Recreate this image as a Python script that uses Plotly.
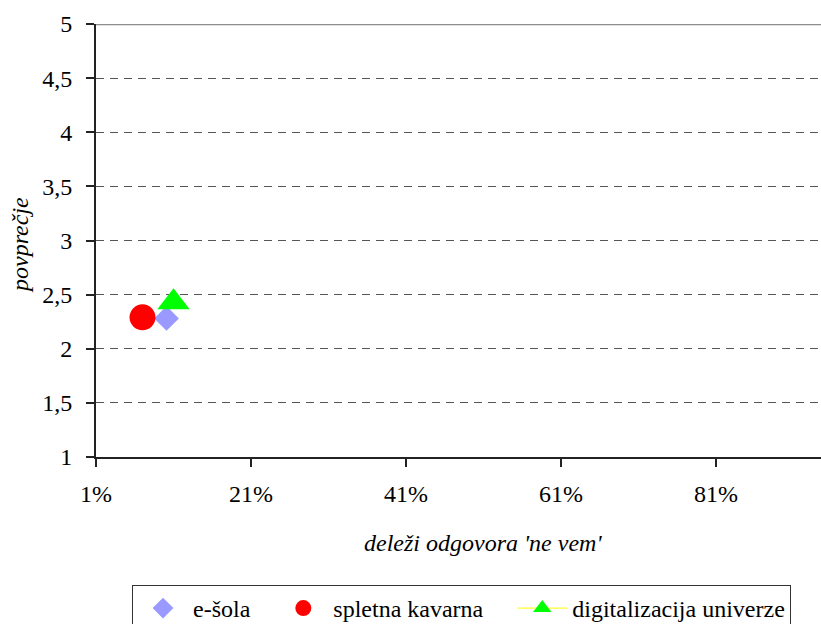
import plotly.graph_objects as go

# data
series_names = ["e-šola", "spletna kavarna", "digitalizacija univerze"]
x_share = [10.1, 7.0, 11.0]      # delež odgovorov 'ne vem' (%)
y_mean = [2.28, 2.29, 2.43]      # povprečje
x_tick0, x_dtick = 1, 20         # 1%, 21%, 41%, 61%, 81%
y_tick0, y_dtick = 1, 0.5        # 1 ... 5

FONT = "Times"
W, H = 821, 624
L, R, T, B = 96, 0, 24, 167
PW = W - L - R
PH = H - T - B

def px_x(p):
    return (p - L) / PW

def px_y(p):
    return (H - B - p) / PH

styles = [
    dict(symbol="diamond", size=19, color="#9999FF"),
    dict(symbol="circle", size=26, color="#FF0000"),
    dict(symbol="triangle-up", size=28, color="#00FF00"),
]
legend_pad = ["\u00a0\u00a0\u00a0", "\u00a0\u00a0\u00a0\u00a0", ""]

fig = go.Figure()
for i, name in enumerate(series_names):
    st = styles[i]
    tr = dict(
        x=[x_share[i]], y=[y_mean[i]], name=name + legend_pad[i],
        marker=dict(symbol=st["symbol"], size=st["size"], color=st["color"], line=dict(width=0)),
        cliponaxis=False,
    )
    if i == 2:
        fig.add_trace(go.Scatter(mode="lines+markers", line=dict(color="#FFFF00", width=1), **tr))
    else:
        fig.add_trace(go.Scatter(mode="markers", **tr))

fig.add_shape(type="line", xref="paper", yref="y", x0=0, x1=1, y0=5, y1=5,
              line=dict(color="#8C8C8C", width=2.5), layer="above")

fig.update_layout(
    width=W, height=H,
    margin=dict(l=L, r=R, t=T, b=B, pad=0, autoexpand=False),
    paper_bgcolor="white", plot_bgcolor="white",
    separators=", ",
    font=dict(family=FONT, size=24, color="black"),
    showlegend=True,
    legend=dict(
        orientation="h", x=px_x(132), y=px_y(585), xanchor="left", yanchor="top",
        bordercolor="#333333", borderwidth=1, bgcolor="white",
        font=dict(family=FONT, size=24),
        itemsizing="trace", traceorder="normal", itemwidth=50,
    ),
    xaxis=dict(
        range=[1, 1 + PW / 7.75], tickmode="linear", tick0=x_tick0, dtick=x_dtick,
        ticksuffix="%",
        showgrid=False, zeroline=False, showline=True, linecolor="#222222", linewidth=2,
        ticks="outside", ticklen=8, tickwidth=1.5, tickcolor="#222222",
        ticklabelstandoff=6,
        tickfont=dict(family=FONT, size=24),
    ),
    yaxis=dict(
        range=[1, 5], tickmode="linear", tick0=y_tick0, dtick=y_dtick,
        showgrid=True, gridcolor="#555555", gridwidth=1, griddash="8px,6px",
        zeroline=False, showline=True, linecolor="#222222", linewidth=2,
        ticks="outside", ticklen=8, tickwidth=1.5, tickcolor="#222222",
        ticklabelstandoff=9,
        tickfont=dict(family=FONT, size=24),
    ),
    annotations=[
        dict(text="deleži odgovora 'ne vem'", xref="paper", yref="paper",
             x=px_x(483), y=px_y(543), xanchor="center", yanchor="middle",
             showarrow=False, font=dict(family=FONT, size=24, style="italic")),
        dict(text="povprečje", xref="paper", yref="paper",
             x=px_x(20), y=px_y(245), xanchor="center", yanchor="middle",
             textangle=-90, showarrow=False, font=dict(family=FONT, size=24, style="italic")),
    ],
)

fig.write_html("out.html", post_script="document.body.style.margin='0';",
               config={"displayModeBar": False})
